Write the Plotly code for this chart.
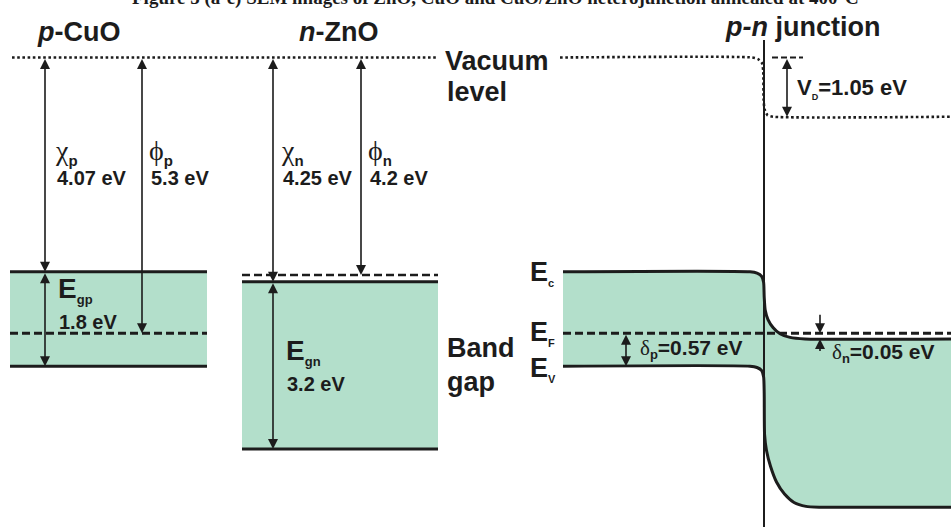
import plotly.graph_objects as go

# ---------------- data (eV below vacuum level, as drawn) ----------------
# labelled values
chi_p_txt, phi_p_txt, Eg_p_txt = "4.07 eV", "5.3 eV", "1.8 eV"
chi_n_txt, phi_n_txt, Eg_n_txt = "4.25 eV", "4.2 eV", "3.2 eV"
V_D_txt, delta_p_txt, delta_n_txt = "1.05 eV", "0.57 eV", "0.05 eV"

# level positions (negative = below vacuum)
p_Ec, p_EF, p_Ev = -4.09, -5.26, -5.89          # p-CuO
n_EF, n_Ec, n_Ev = -4.15, -4.28, -7.47          # n-ZnO
j_vac, j_EF, j_Ec, j_Ev = -1.13, -5.26, -5.37, -8.58   # n side of the junction

# schematic x-extents of the blocks (diagram distance units)
p_x = [10, 207]
n_x = [242, 438]
vac_left_x = [12, 437]
junc_x0, junc_x1, junc_pos = 563, 951, 764

# band profiles across the junction
ec_prof_x = [563, 750, 757, 761.5, 763.6, 764.2, 765.2, 768, 773, 780, 790, 805, 951]
ec_prof_E = [-4.09, -4.09, -4.115, -4.17, -4.29, -4.57, -4.82, -5.0, -5.15, -5.27, -5.34, -5.37, -5.37]
ev_prof_x = [563, 750, 757, 761.5, 763.6, 764.2, 764.6, 766.5, 770.5, 776.5, 784.5, 794, 806, 820, 951]
ev_prof_E = [-5.89, -5.89, -5.915, -5.97, -6.09, -6.4, -7.2, -7.5, -7.8, -8.1, -8.33, -8.49, -8.565, -8.58, -8.58]
vac_prof_x = [560, 752, 758, 761.8, 763.2, 763.6, 764.6, 767.5, 773, 951]
vac_prof_E = [0.0, 0.0, -0.03, -0.1, -0.25, -0.8, -0.99, -1.1, -1.13, -1.13]

# ---------------- styling ----------------
INK = "#1c1c1c"
FILL = "#b3dfcb"
W, H = 951, 527
PX0, PXS = 57.5, 52.41          # pixel of vacuum level, pixels per eV
y_top = PX0 / PXS
y_bot = -(H - PX0) / PXS

fig = go.Figure()


def band(x, lo, hi):
    fig.add_trace(go.Scatter(x=x, y=[lo, lo], mode="lines",
                             line=dict(color=INK, width=3), hoverinfo="skip"))
    fig.add_trace(go.Scatter(x=x, y=[hi, hi], mode="lines", fill="tonexty",
                             fillcolor=FILL, line=dict(color=INK, width=3),
                             hoverinfo="skip"))


def hline(x, e, dash, width=3):
    fig.add_trace(go.Scatter(x=x, y=[e, e], mode="lines",
                             line=dict(color=INK, width=width, dash=dash),
                             hoverinfo="skip"))


DOT = "2.6px,2.6px"
DASH = "8px,4px"

# p-CuO block
band(p_x, p_Ev, p_Ec)
hline(p_x, p_EF, DASH)
# n-ZnO block
band(n_x, n_Ev, n_Ec)
hline(n_x, n_EF, DASH, 2.6)
# vacuum level (left)
hline(vac_left_x, 0.0, DOT, 2.6)

# junction
fig.add_trace(go.Scatter(x=ev_prof_x, y=ev_prof_E, mode="lines",
                         line=dict(color=INK, width=3, shape="spline", smoothing=0.6),
                         hoverinfo="skip"))
fig.add_trace(go.Scatter(x=ec_prof_x, y=ec_prof_E, mode="lines", fill="tonexty",
                         fillcolor=FILL,
                         line=dict(color=INK, width=3, shape="spline", smoothing=0.6),
                         hoverinfo="skip"))
hline([junc_x0, junc_x1], j_EF, DASH)
fig.add_trace(go.Scatter(x=vac_prof_x, y=vac_prof_E, mode="lines",
                         line=dict(color=INK, width=2.6, dash=DOT, shape="spline", smoothing=0.6),
                         hoverinfo="skip"))
hline([772, 803], 0.0, "6px,3px", 2)

fig.add_shape(type="line", xref="x", yref="paper", x0=junc_pos, x1=junc_pos,
              y0=0, y1=1 - 40 / H, line=dict(color=INK, width=2))


def arrow(x, e_from, e_to, both=True):
    fig.add_annotation(x=x, y=e_to, ax=x, ay=e_from, xref="x", yref="y",
                       axref="x", ayref="y", text="", showarrow=True,
                       arrowhead=2, startarrowhead=2,
                       arrowside="end+start" if both else "end",
                       arrowsize=1.25, startarrowsize=1.25, arrowwidth=1.6,
                       arrowcolor=INK, standoff=0, startstandoff=0)


arrow(45, 0.0, p_Ec)
arrow(45, p_Ec, p_Ev)
arrow(142, 0.0, p_EF)
arrow(273, 0.0, n_Ec)
arrow(273, n_Ec, n_Ev)
arrow(361, 0.0, n_EF)
arrow(626, j_EF, p_Ev)
arrow(787, 0.0, j_vac)
arrow(820, j_EF + 0.38, j_EF, both=False)
arrow(820, j_Ec - 0.26, j_Ec, both=False)

SANS = "Liberation Sans, Arial, sans-serif"
SERIF = "Liberation Serif, DejaVu Serif, serif"


def label(x, py, text, size, anchor="left", family=SANS, color=INK):
    fig.add_annotation(x=x, y=1 - py / H, xref="x", yref="paper", text=text,
                       showarrow=False, xanchor=anchor, yanchor="middle",
                       font=dict(family=family, size=size, color=color))


def greek(g, sub):
    return (f"<span style='font-family:{SERIF}'>{g}</span>"
            f"<sub><b><span style='font-size:15px'>{sub}</span></b></sub>")


# title (cut at the top edge)
label(495, -2, "<b>Figure 5 (a-c) SEM images of ZnO, CuO and CuO/ZnO heterojunction annealed at 400°C</b>",
      19, anchor="center", family=SERIF)

label(35, 32, "<b><i>p</i>-CuO</b>", 27)
label(297, 32, "<b><i>n</i>-ZnO</b>", 27)
label(723, 27, "<b><i>p-n</i> junction</b>", 27)

label(443, 61, "<b>Vacuum</b>", 27)
label(445, 92, "<b>level</b>", 27)
label(445, 348, "<b>Band</b>", 27)
label(445, 382, "<b>gap</b>", 27)

label(53, 152, greek("χ", "p"), 28)
label(55, 178, f"<b>{chi_p_txt}</b>", 20)
label(147, 152, greek("ϕ", "p"), 28)
label(149, 178, f"<b>{phi_p_txt}</b>", 20)
label(279, 152, greek("χ", "n"), 28)
label(281, 178, f"<b>{chi_n_txt}</b>", 20)
label(366, 152, greek("ϕ", "n"), 28)
label(368, 178, f"<b>{phi_n_txt}</b>", 20)

label(56, 290, "<b>E<sub><span style='font-size:13px'>gp</span></sub></b>", 28)
label(57, 322, f"<b>{Eg_p_txt}</b>", 20)
label(284, 352, "<b>E<sub><span style='font-size:13px'>gn</span></sub></b>", 28)
label(285, 384, f"<b>{Eg_n_txt}</b>", 20)

label(528, 273, "<b>E<sub><span style='font-size:11px'>c</span></sub></b>", 27)
label(528, 333, "<b>E<sub><span style='font-size:11px'>F</span></sub></b>", 27)
label(528, 369, "<b>E<sub><span style='font-size:11px'>V</span></sub></b>", 27)

label(638, 349, f"<span style='font-family:{SERIF}'>δ</span><sub><b><span style='font-size:13px'>p</span></b></sub><b>={delta_p_txt}</b>", 21)
label(830, 353, f"<span style='font-family:{SERIF}'>δ</span><sub><b><span style='font-size:13px'>n</span></b></sub><b>={delta_n_txt}</b>", 21)
label(795, 88, f"<b>V<sub><span style='font-size:9px'>D</span></sub>={V_D_txt}</b>", 22)

fig.update_layout(
    width=W, height=H, margin=dict(l=0, r=0, t=0, b=0),
    paper_bgcolor="white", plot_bgcolor="white", showlegend=False,
    xaxis=dict(range=[0, W], visible=False, fixedrange=True),
    yaxis=dict(range=[y_bot, y_top], visible=False, fixedrange=True),
)

fig.write_html("out.html", config={"displayModeBar": False})
